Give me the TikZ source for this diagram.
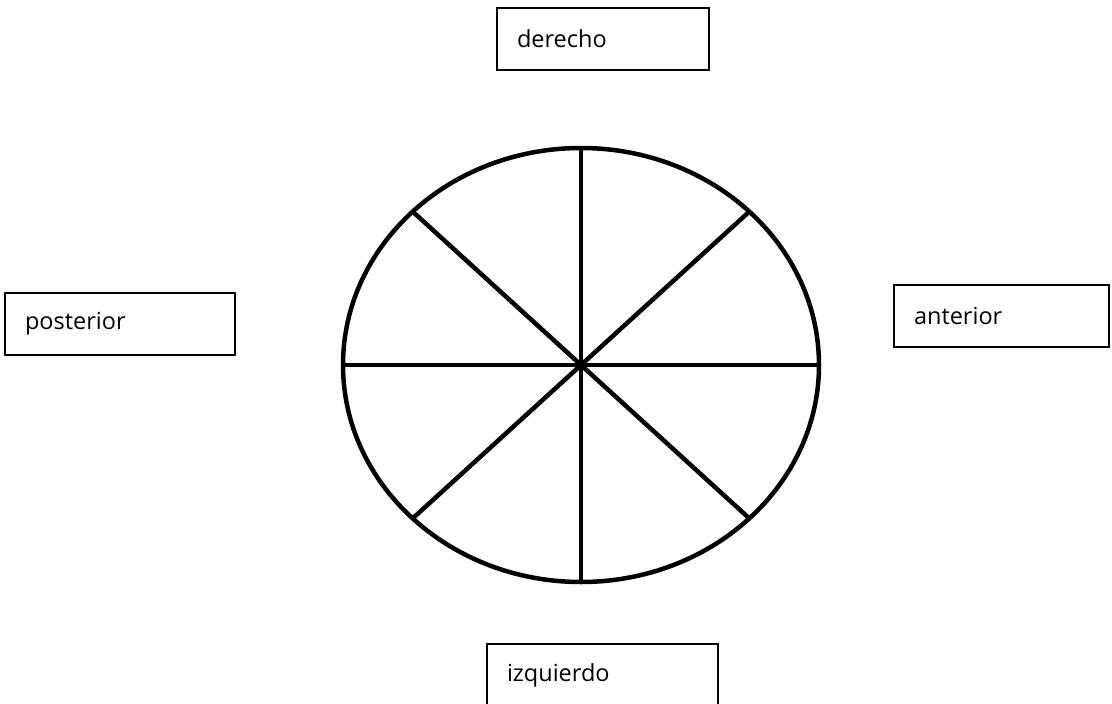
\documentclass[tikz,border=0pt]{standalone}
\usepackage{fontspec}
\setmainfont{Open Sans}
\usetikzlibrary{shapes.geometric}
\tikzset{
  lbl/.style={draw, line width=1.6pt, rectangle, inner xsep=20pt, inner ysep=0pt,
    minimum height=62pt, align=left, font=\fontsize{23.5}{28}\selectfont, anchor=center},
  spoke/.style={line width=4.5pt},
}
\begin{document}
\begin{tikzpicture}[x=1pt,y=-1pt]
\useasboundingbox (0,0) rectangle (1112,704);
\node[lbl, text width=172pt] (der) at (603,39) {derecho};
\node[lbl, text width=190pt] (post) at (120,324) {posterior};
\node[lbl, text width=175pt] (ant) at (1001.5,316) {anterior};
\node[lbl, text width=191pt] (izq) at (602.5,675) {izquierdo};
\node[ellipse, draw, line width=4.5pt, minimum width=476pt, minimum height=434pt, inner sep=0pt] (e) at (581,365) {};
\coordinate (c) at (581,365);
\coordinate (p45) at (749.3,211.6);
\coordinate (p135) at (412.7,211.6);
\coordinate (p225) at (412.7,518.4);
\coordinate (p315) at (749.3,518.4);
\draw[spoke] (c |- e.north) -- (c |- e.south);
\draw[spoke] (e.west) -- (e.east);
\draw[spoke] (p135) -- (p315);
\draw[spoke] (p45) -- (p225);
\end{tikzpicture}
\end{document}
